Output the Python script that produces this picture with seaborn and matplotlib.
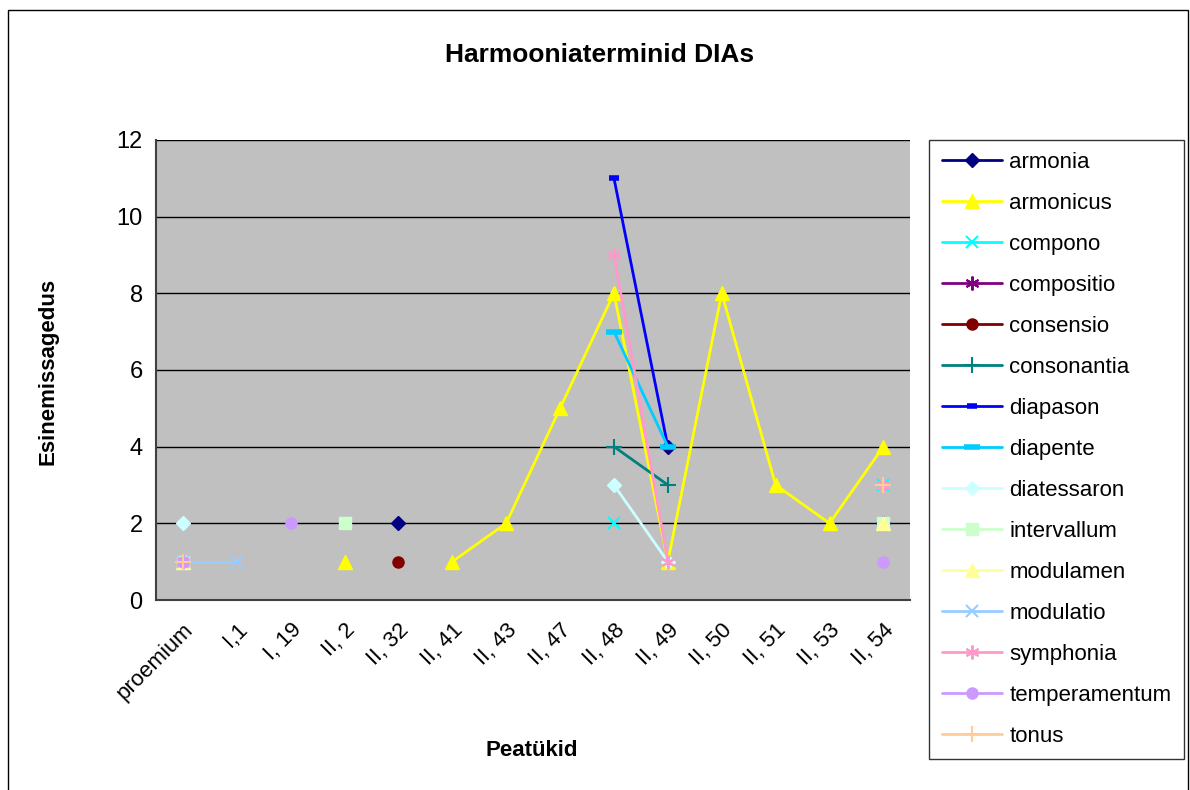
import numpy as np
import pandas as pd
import matplotlib
matplotlib.use("Agg")
import matplotlib.pyplot as plt
from matplotlib.patches import Rectangle
import seaborn as sns

# categories (x axis)
peatukid = ['proemium', 'I,1', 'I, 19', 'II, 2', 'II, 32', 'II, 41', 'II, 43',
            'II, 47', 'II, 48', 'II, 49', 'II, 50', 'II, 51', 'II, 53', 'II, 54']
N = np.nan

# series values, one per category (NaN = no value)
armonia       = [N, N, N, N, 2, N, N, N, N, 4, N, N, N, 2]
armonicus     = [N, N, N, 1, N, 1, 2, 5, 8, 1, 8, 3, 2, 4]
compono       = [N, N, N, N, N, N, N, N, 2, N, N, N, N, 3]
compositio    = [1, N, N, N, N, N, N, N, N, N, N, N, N, N]
consensio     = [N, N, N, N, 1, N, N, N, N, N, N, N, N, N]
consonantia   = [N, N, N, N, N, N, N, N, 4, 3, N, N, N, N]
diapason      = [N, N, N, N, N, N, N, N, 11, 4, N, N, N, N]
diapente      = [N, N, N, N, N, N, N, N, 7, 4, N, N, N, N]
diatessaron   = [2, N, N, N, N, N, N, N, 3, 1, N, N, N, N]
intervallum   = [1, N, N, 2, N, N, N, N, N, N, N, N, N, 2]
modulamen     = [1, N, N, N, N, N, N, N, N, N, N, N, N, 2]
modulatio     = [1, 1, N, N, N, N, N, N, N, N, N, N, N, N]
symphonia     = [1, N, N, N, N, N, N, N, 9, 1, N, N, N, 3]
temperamentum = [1, N, 2, N, N, N, N, N, N, N, N, N, N, 1]
tonus         = [1, N, N, N, N, N, N, N, N, N, N, N, N, 3]

seeriad = {
    'armonia': armonia, 'armonicus': armonicus, 'compono': compono,
    'compositio': compositio, 'consensio': consensio, 'consonantia': consonantia,
    'diapason': diapason, 'diapente': diapente, 'diatessaron': diatessaron,
    'intervallum': intervallum, 'modulamen': modulamen, 'modulatio': modulatio,
    'symphonia': symphonia, 'temperamentum': temperamentum, 'tonus': tonus,
}

asterisk = (6, 2, 0)
stiil = {
    'armonia':       ('#000080', 'D', 7, 1),
    'armonicus':     ('#FFFF00', '^', 10, 1),
    'compono':       ('#00FFFF', 'x', 9, 1.5),
    'compositio':    ('#800080', asterisk, 10, 1.5),
    'consensio':     ('#800000', 'o', 8, 1),
    'consonantia':   ('#008080', '+', 11, 1.5),
    'diapason':      ('#0000FF', '_', 7, 4),
    'diapente':      ('#00CCFF', '_', 11, 4),
    'diatessaron':   ('#CCFFFF', 'D', 7, 1),
    'intervallum':   ('#CCFFCC', 's', 8, 1),
    'modulamen':     ('#FFFF99', '^', 10, 1),
    'modulatio':     ('#99CCFF', 'x', 9, 1.5),
    'symphonia':     ('#FF99CC', asterisk, 10, 1.5),
    'temperamentum': ('#CC99FF', 'o', 8, 1),
    'tonus':         ('#FFCC99', '+', 11, 1.5),
}

# long table with segment ids so gaps stay gaps
rows = []
for nimi, vals in seeriad.items():
    seg = 0
    prev = False
    for i, v in enumerate(vals):
        if np.isnan(v):
            prev = False
            continue
        if not prev:
            seg += 1
        rows.append({'seeria': nimi, 'x': i, 'y': v, 'seg': seg})
        prev = True
df = pd.DataFrame(rows)

sns.set_style('white')
plt.rcParams['font.family'] = ['Liberation Sans', 'DejaVu Sans']
plt.rcParams['text.color'] = 'black'
plt.rcParams['xtick.color'] = 'black'
plt.rcParams['ytick.color'] = 'black'

fig = plt.figure(figsize=(11.9, 7.9), dpi=100)
ax = fig.add_axes([0.131, 0.2405, 0.634, 0.5825])
ax.set_facecolor('#C0C0C0')

handles = []
for nimi in seeriad:
    col, mk, ms, mew = stiil[nimi]
    sub = df[df['seeria'] == nimi]
    for s, part in sub.groupby('seg'):
        sns.lineplot(data=part, x='x', y='y', color=col, marker=mk, markersize=ms,
                     markeredgecolor=col, markerfacecolor=col, markeredgewidth=mew,
                     linewidth=2, ax=ax, legend=False, estimator=None, sort=False)
    h, = ax.plot([], [], color=col, marker=mk, markersize=ms, markeredgecolor=col,
                 markerfacecolor=col, markeredgewidth=mew, linewidth=2, label=nimi)
    handles.append(h)

ax.set_xlim(-0.5, len(peatukid) - 0.5)
ax.set_ylim(0, 12)
ax.set_yticks(range(0, 13, 2))
ax.set_xticks(range(len(peatukid)))
ax.set_xticklabels(peatukid, rotation=45, ha='right', rotation_mode='anchor', fontsize=16)
ax.set_xticks(np.arange(-0.5, len(peatukid), 1), minor=True)
ax.tick_params(axis='x', which='major', length=0, pad=14)
ax.tick_params(axis='x', which='minor', length=6, width=1, color='#404040', direction='out')
ax.tick_params(axis='y', length=6, width=1, color='#404040', direction='out', labelsize=17)
ax.yaxis.grid(True, color='black', linewidth=1)
ax.set_axisbelow(True)
for sp in ['top', 'right']:
    ax.spines[sp].set_visible(False)
for sp in ['left', 'bottom']:
    ax.spines[sp].set_color('#404040')
    ax.spines[sp].set_linewidth(1.5)
ax.set_xlabel('')
ax.set_ylabel('')

fig.text(0.504, 0.93, 'Harmooniaterminid DIAs', ha='center', va='center',
         fontsize=19, fontweight='bold')
fig.text(0.04, 0.53, 'Esinemissagedus', ha='center', va='center', rotation=90,
         fontsize=16, fontweight='bold')
fig.text(0.447, 0.05, 'Peatükid', ha='center', va='center', fontsize=16, fontweight='bold')

leg = fig.legend(handles=handles, loc='upper left', bbox_to_anchor=(0.781, 0.823),
                 fontsize=16, frameon=True, fancybox=False, edgecolor='black',
                 labelspacing=0.9, handlelength=2.7, borderpad=0.55, handletextpad=0.35,
                 borderaxespad=0)
leg.get_frame().set_linewidth(1)

fig.patches.append(Rectangle((0.007, -0.01), 0.991, 0.997, transform=fig.transFigure,
                             fill=False, edgecolor='black', linewidth=1))

fig.savefig('out.png', dpi=100)
